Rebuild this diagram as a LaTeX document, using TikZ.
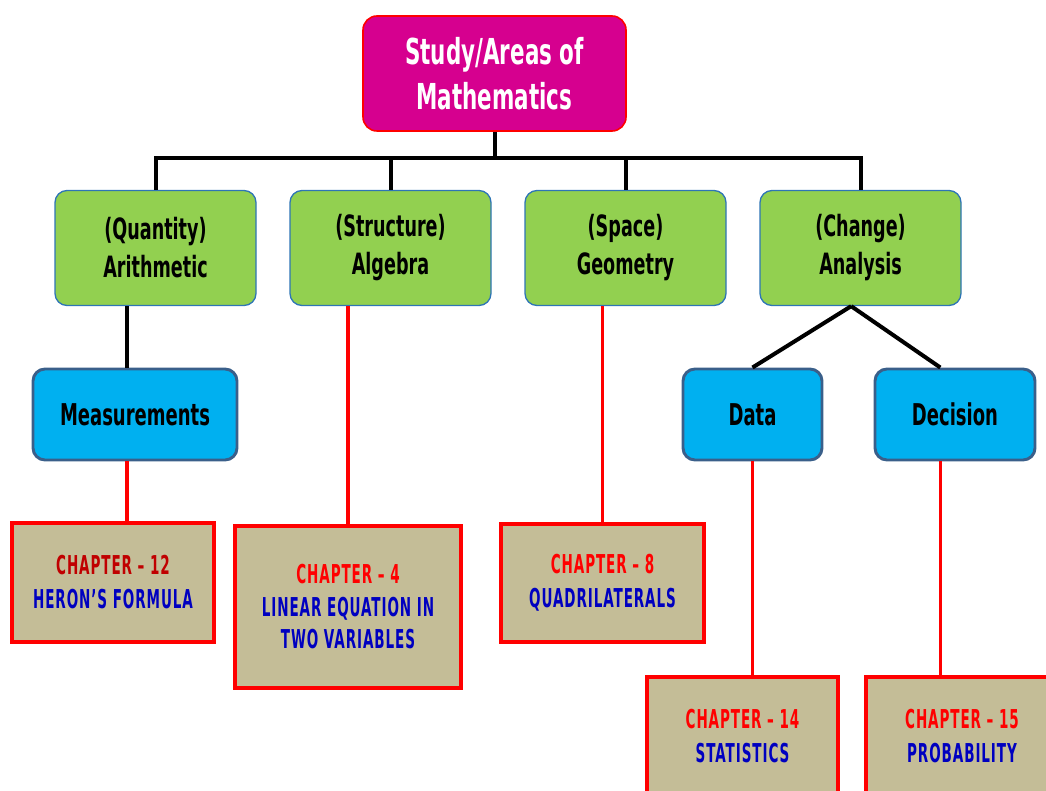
\documentclass[tikz,border=0pt]{standalone}
\usepackage{fontspec}
\setmainfont{DejaVu Sans}[FakeStretch=0.6]
\newfontfamily\capsfont{DejaVu Sans}[FakeStretch=0.52, LetterSpace=3.5]
\usepackage{tikz}

\definecolor{headpink}{RGB}{214,0,143}
\definecolor{areagreen}{RGB}{146,208,80}
\definecolor{areaedge}{RGB}{46,117,182}
\definecolor{subblue}{RGB}{0,176,240}
\definecolor{subedge}{RGB}{58,95,138}
\definecolor{chaptan}{RGB}{196,189,151}
\definecolor{chapred}{RGB}{255,0,0}
\definecolor{chapdark}{RGB}{192,0,0}
\definecolor{chapblue}{RGB}{0,0,192}

\newlength\pxu
\setlength\pxu{0.75pt}

\tikzset{
	headbox/.style={rectangle, rounded corners=14\pxu, draw=red, line width=1.2pt, fill=headpink, text=white, align=center, minimum width=263\pxu, minimum height=115\pxu, font=\bfseries\fontsize{26.8}{33.75}\selectfont},
	areabox/.style={rectangle, rounded corners=12\pxu, draw=areaedge, line width=1pt, fill=areagreen, align=center, minimum width=201\pxu, minimum height=115\pxu, font=\bfseries\fontsize{22}{28.5}\selectfont},
	subbox/.style={rectangle, rounded corners=12\pxu, draw=subedge, line width=2.2pt, fill=subblue, align=center, minimum height=91\pxu, font=\bfseries\fontsize{22.5}{27}\selectfont},
	chapbox/.style={rectangle, draw=chapred, line width=3pt, fill=chaptan, align=center, minimum height=119\pxu, font=\capsfont\bfseries\fontsize{19.5}{25.5}\selectfont},
	bus/.style={draw=black, line width=3pt},
	redline/.style={draw=chapred, line width=2.3pt}
}

\begin{document}
\begin{tikzpicture}[x=0.75pt, y=-0.75pt]

\useasboundingbox (0,0) rectangle (1046,791);
\clip (0,0) rectangle (1046,791);

\node (top) at (494.5, 73.5) [headbox] {Study/Areas of\\Mathematics};

\node (arith) at (155.5, 248) [areabox] {(Quantity)\\Arithmetic};
\node (alg) at (390.5, 248) [areabox] {(Structure)\\Algebra};
\node (geom) at (625.5, 248) [areabox] {(Space)\\Geometry};
\node (analys) at (860.5, 248) [areabox] {(Change)\\Analysis};

\node (meas) at (135, 414.5) [subbox, minimum width=204\pxu] {Measurements};
\node (data) at (752.5, 414.5) [subbox, minimum width=139\pxu] {Data};
\node (dec) at (955, 414.5) [subbox, minimum width=160\pxu] {Decision};

\node (ch12) at (113, 582.5) [chapbox, minimum width=202\pxu] {\textcolor{chapdark}{CHAPTER – 12}\\\textcolor{chapblue}{HERON’S FORMULA}};
\node (ch4) at (348, 607) [chapbox, minimum width=226\pxu, minimum height=162\pxu, font=\capsfont\bfseries\fontsize{19.5}{24.4}\selectfont] {\textcolor{chapred}{CHAPTER – 4}\\\textcolor{chapblue}{LINEAR EQUATION IN}\\\textcolor{chapblue}{TWO VARIABLES}};
\node (ch8) at (602.5, 583) [chapbox, minimum width=203\pxu, minimum height=118\pxu] {\textcolor{chapred}{CHAPTER – 8}\\\textcolor{chapblue}{QUADRILATERALS}};
\node (ch14) at (742.5, 736.5) [chapbox, minimum width=191\pxu] {\textcolor{chapred}{CHAPTER – 14}\\\textcolor{chapblue}{STATISTICS}};
\node (ch15) at (962, 736.5) [chapbox, minimum width=192\pxu] {\textcolor{chapred}{CHAPTER – 15}\\\textcolor{chapblue}{PROBABILITY}};

% top level bus
\coordinate (busmid) at (494.5, 158);
\draw[bus] (top.south) -- (busmid);
\draw[bus] (arith.north) |- (busmid) -| (analys.north);
\draw[bus] (alg.north) -- (alg.north |- busmid);
\draw[bus] (geom.north) -- (geom.north |- busmid);

% second level
\draw[bus] ([xshift=-6]meas.north) -- ([xshift=-6]meas.north |- arith.south);
\draw[bus] ([xshift=-7]analys.south) -- (data.north);
\draw[bus] ([xshift=-7]analys.south) -- ([xshift=-11]dec.north);

% chapters
\draw[redline] ([xshift=-6]meas.south) -- ([xshift=-6]meas.south |- ch12.north);
\draw[redline] (ch4.north) -- (ch4.north |- alg.south);
\draw[redline] (ch8.north) -- (ch8.north |- geom.south);
\draw[redline] (data.south) -- (data.south |- ch14.north);
\draw[redline] ([xshift=-11]dec.south) -- ([xshift=-11]dec.south |- ch15.north);

\end{tikzpicture}
\end{document}
